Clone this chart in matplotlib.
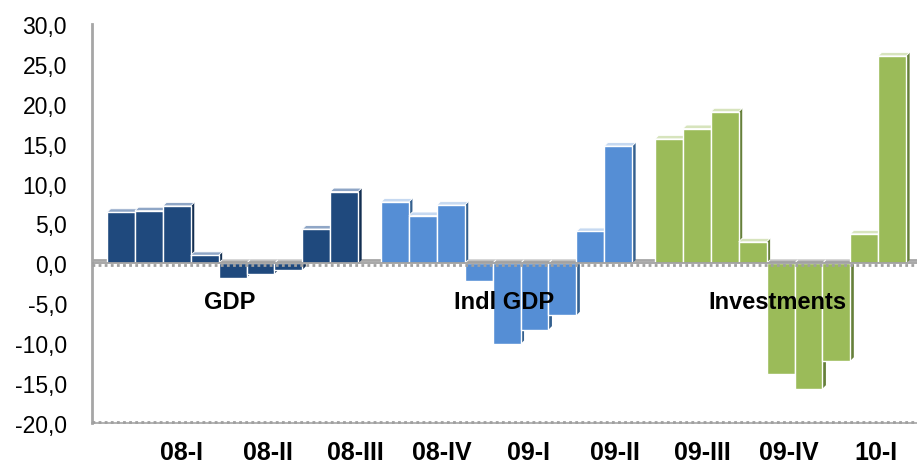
import matplotlib as mpl
import matplotlib.pyplot as plt
import numpy as np
from matplotlib.patches import Polygon
from matplotlib.transforms import ScaledTranslation

mpl.rcParams['font.family'] = ['Liberation Sans', 'DejaVu Sans']

# データ
quarters = ['08-I', '08-II', '08-III', '08-IV', '09-I', '09-II', '09-III', '09-IV', '10-I']
groups = ['GDP', 'Indl GDP', 'Investments']
gdp = [6.4, 6.6, 7.2, 1.0, -1.8, -1.3, -0.8, 4.3, 9.0]
indl_gdp = [7.7, 6.0, 7.3, -2.2, -10.1, -8.3, -6.5, 4.0, 14.7]
investments = [15.6, 16.9, 19.0, 2.7, -13.9, -15.7, -12.2, 3.7, 26.0]

series = [gdp, indl_gdp, investments]
front_colors = ['#1F497D', '#558ED5', '#9BBB59']
side_colors = ['#132f52', '#34608f', '#66803a']
top_colors = ['#8fa6c6', '#c6d9f1', '#d7e4bd']
floor_color = '#a6a6a6'

fig = plt.figure(figsize=(9.17, 4.64), dpi=100)
ax = fig.add_axes([92/917, 1-424/464, (917-92)/917, (424-25)/464])

group_step = 9.82
xmin, xmax = -0.54, 29.03
ymin, ymax = -20, 30
ax.set_xlim(xmin, xmax)
ax.set_ylim(ymin, ymax)

# 3D風の奥行き (px -> データ単位)
depth_px = 3.5
ax_w = (917-92)
ax_h = (424-25)
dx = depth_px * (xmax-xmin) / ax_w
dy = depth_px * (ymax-ymin) / ax_h

# 奥の床ライン
ax.plot([xmin, xmax], [dy, dy], color=floor_color, lw=2, zorder=1, solid_capstyle='butt')

z = 2
for g, vals in enumerate(series):
    x = g*group_step + np.arange(len(vals))
    bars = ax.bar(x, vals, width=1.0, align='edge', color=front_colors[g],
                  edgecolor='white', linewidth=1)
    for b in bars:
        x0 = b.get_x()
        x1 = x0 + b.get_width()
        v = b.get_height() + b.get_y()
        side = [(x1, 0), (x1, v), (x1+dx, v+dy), (x1+dx, dy)]
        if v >= 0:
            top = [(x0, v), (x1, v), (x1+dx, v+dy), (x0+dx, v+dy)]
            tc = top_colors[g]
        else:
            top = [(x0, 0), (x1, 0), (x1+dx, dy), (x0+dx, dy)]
            tc = floor_color
        ax.add_patch(Polygon(side, closed=True, facecolor=side_colors[g], edgecolor='none', zorder=z))
        ax.add_patch(Polygon(top, closed=True, facecolor=tc, edgecolor='white', lw=0.6, zorder=z))
        b.set_zorder(z+1)
        z += 2
    ax.text(g*group_step + 4.4, -4.8, groups[g], ha='center', va='center',
            fontsize=17, fontweight='bold', zorder=500)

# ゼロライン
ax.axhline(0, color='#a0a0a0', lw=1.3, zorder=400)
down = ScaledTranslation(0, -1.5/72, fig.dpi_scale_trans)
ax.plot([xmin, xmax], [0, 0], color='#a0a0a0', lw=2, linestyle=(0, (1, 1.2)),
        transform=ax.transData + down, zorder=400)
ax.plot([xmin, xmax], [ymin, ymin], color='#a0a0a0', lw=2, linestyle=(0, (1, 1.2)),
        transform=ax.transData + ScaledTranslation(0, 1/72, fig.dpi_scale_trans), zorder=400, clip_on=False)

# 軸の設定
for s in ['top', 'right']:
    ax.spines[s].set_visible(False)
ax.spines['left'].set_color('#a6a6a6')
ax.spines['left'].set_linewidth(2)
ax.spines['bottom'].set_color('#a6a6a6')
ax.spines['bottom'].set_linewidth(1.2)

yt = np.arange(-20, 31, 5)
ax.set_yticks(yt)
ax.set_yticklabels([f'{v:.1f}'.replace('.', ',') for v in yt], fontsize=16.5)
ax.tick_params(axis='y', length=0, pad=18)

tick_x = 2.67 + 3.11*np.arange(len(quarters))
ax.set_xticks(tick_x)
ax.set_xticklabels(quarters, fontsize=18, fontweight='bold')
ax.tick_params(axis='x', length=0, pad=12)

plt.savefig('out.png', dpi=100)
